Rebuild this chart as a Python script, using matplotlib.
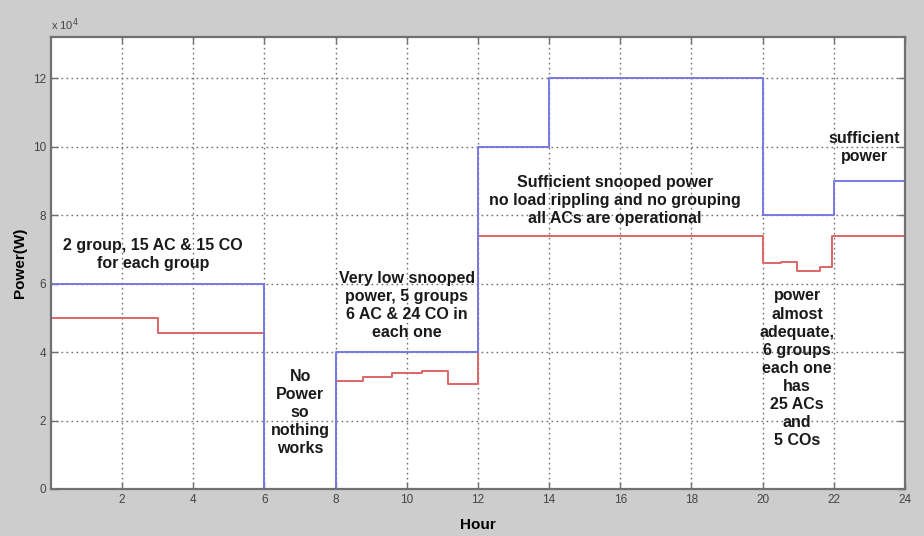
import numpy as np
import matplotlib.pyplot as plt
from matplotlib.ticker import FuncFormatter

# available power (blue) and consumed power (red), stepwise over the day
supply_hours = [0, 6, 8, 12, 14, 20, 22, 24]
supply_power = [6e4, 0, 4e4, 10e4, 12e4, 8e4, 9e4, 9e4]

load_hours = [0, 3, 6, 8, 8.77, 9.57, 10.42, 11.16, 12, 20, 20.53, 20.96, 21.61, 21.96, 24]
load_power = [5e4, 4.55e4, 0, 3.15e4, 3.27e4, 3.39e4, 3.44e4, 3.07e4, 7.4e4,
              6.6e4, 6.62e4, 6.38e4, 6.47e4, 7.4e4, 7.4e4]

x_ticks = list(range(2, 25, 2))
y_ticks = [0, 2e4, 4e4, 6e4, 8e4, 10e4, 12e4]

notes = [
    (2.87, 6.85e4, "2 group, 15 AC & 15 CO\nfor each group"),
    (7.0, 2.24e4, "No\nPower\nso\nnothing\nworks"),
    (10.0, 5.36e4, "Very low snooped\npower, 5 groups\n6 AC & 24 CO in\neach one"),
    (15.85, 8.42e4, "Sufficient snooped power\nno load rippling and no grouping\nall ACs are operational"),
    (20.97, 3.52e4, "power\nalmost\nadequate,\n6 groups\neach one\nhas\n25 ACs\nand\n5 COs"),
    (22.85, 9.96e4, "sufficient\npower"),
]

plt.rcParams['font.family'] = ['Liberation Sans', 'DejaVu Sans']

fig = plt.figure(figsize=(9.24, 5.36), dpi=100, facecolor='#cdcdcd')
ax = fig.add_axes([0.0552, 0.0877, 0.9242, 0.8433])
ax.set_facecolor('white')

ax.step(load_hours, load_power, where='post', color='#dd6666', lw=1.4)
ax.step(supply_hours, supply_power, where='post', color='#7878e4', lw=1.4)

ax.set_xlim(0, 24)
ax.set_ylim(0, 1.32e5)
ax.set_xticks(x_ticks)
ax.set_yticks(y_ticks)
ax.yaxis.set_major_formatter(FuncFormatter(lambda v, p: '%d' % round(v / 1e4)))
ax.grid(True, linestyle=(0, (1.2, 2.4)), color='#707070', lw=1.0)
ax.tick_params(direction='in', top=True, right=True, length=5, width=1,
               color='#707070', labelcolor='#444444', labelsize=8.5)
for s in ax.spines.values():
    s.set_color('#707070')
    s.set_linewidth(1.6)

ax.text(0, 1.008, r'x 10$^4$', transform=ax.transAxes, fontsize=8,
        color='#444444', ha='left', va='bottom')

ax.set_xlabel('Hour', fontsize=11, fontweight='bold', labelpad=9)
ax.set_ylabel('Power(W)', fontsize=11, fontweight='bold', labelpad=4)

for x, y, s in notes:
    ax.text(x, y, s, ha='center', va='center', multialignment='center',
            fontsize=11.5, fontweight='bold', color='#1a1a1a', linespacing=1.26)

fig.savefig('out.png', facecolor=fig.get_facecolor())
